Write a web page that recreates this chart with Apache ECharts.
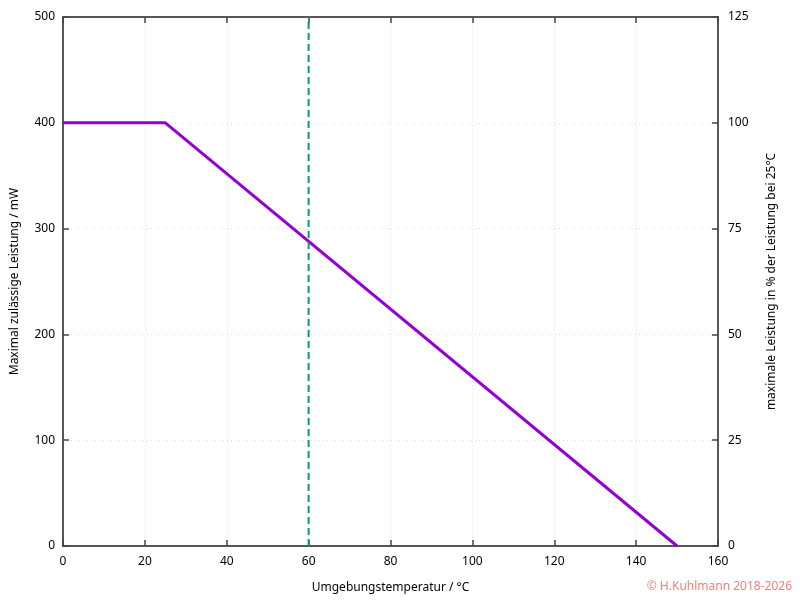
<!DOCTYPE html>
<html>
<head>
<meta charset="utf-8">
<script src="https://cdn.jsdelivr.net/npm/echarts@6/dist/echarts.min.js"></script>
<style>html,body{margin:0;padding:0;background:#fff}#c{width:800px;height:600px}</style>
</head>
<body>
<div id="c"></div>
<script>
const tempX = [0, 25, 150];
const powerY = [400, 400, 0];
const markTemp = 60;
const markRange = [0, 500];
const xTicks = [0, 20, 40, 60, 80, 100, 120, 140, 160];
const leftTicks = [0, 100, 200, 300, 400, 500];
const rightTicks = [0, 25, 50, 75, 100, 125];

const font = 'Noto Sans';
const chart = echarts.init(document.getElementById('c'));
const axisLine = () => ({show: true, onZero: false, lineStyle: {color: '#222', width: 1.5}});
const tick = () => ({show: true, inside: true, length: 6, lineStyle: {color: '#444', width: 1.5}});
const lbl = (m) => ({color: '#000', fontFamily: font, fontSize: 12, margin: m});
const nameStyle = () => ({color: '#000', fontFamily: font, fontSize: 12});
const grid = () => ({show: true, lineStyle: {color: '#ddd', type: [1, 3], width: 1}});
chart.setOption({
  animation: false,
  backgroundColor: '#fff',
  grid: {left: 63, right: 82, top: 17, bottom: 54, containLabel: false, outerBoundsMode: 'none'},
  xAxis: [{
    type: 'value', min: xTicks[0], max: xTicks[xTicks.length - 1], interval: 20,
    position: 'bottom',
    name: 'Umgebungstemperatur / °C', nameLocation: 'middle', nameGap: 36,
    nameTextStyle: nameStyle(),
    axisLine: axisLine(), axisTick: tick(),
    axisLabel: lbl(10),
    splitLine: grid()
  }, {
    type: 'value', min: xTicks[0], max: xTicks[xTicks.length - 1], interval: 20,
    position: 'top',
    axisLine: axisLine(), axisTick: tick(), axisLabel: {show: false}, splitLine: {show: false}
  }],
  yAxis: [{
    type: 'value', min: leftTicks[0], max: leftTicks[leftTicks.length - 1], interval: 100,
    position: 'left',
    name: 'Maximal zulässige Leistung / mW', nameLocation: 'middle', nameGap: 42, nameRotate: 90,
    nameTextStyle: nameStyle(),
    axisLine: axisLine(), axisTick: tick(),
    axisLabel: lbl(8),
    splitLine: grid()
  }, {
    type: 'value', min: rightTicks[0], max: rightTicks[rightTicks.length - 1], interval: 25,
    position: 'right',
    name: 'maximale Leistung in % der Leistung bei 25°C', nameLocation: 'middle', nameGap: 48, nameRotate: 90,
    nameTextStyle: nameStyle(),
    axisLine: axisLine(), axisTick: tick(),
    axisLabel: lbl(10),
    splitLine: {show: false}
  }],
  series: [{
    type: 'line', xAxisIndex: 0, yAxisIndex: 0,
    data: tempX.map((x, i) => [x, powerY[i]]),
    symbol: 'none', lineStyle: {color: '#9400d3', width: 3}, z: 3
  }, {
    type: 'line', xAxisIndex: 0, yAxisIndex: 0,
    data: markRange.map(y => [markTemp, y]),
    symbol: 'none', lineStyle: {color: '#009e73', width: 2, type: [7, 4]}, z: 4
  }, {
    type: 'line', xAxisIndex: 1, yAxisIndex: 1,
    data: [], symbol: 'none', silent: true
  }],
  graphic: [{
    type: 'text', right: 8, bottom: 7,
    style: {text: '© H.Kuhlmann 2018-2026', fill: '#f08080', font: '12px "Noto Sans"'}
  }]
});
</script>
</body>
</html>
